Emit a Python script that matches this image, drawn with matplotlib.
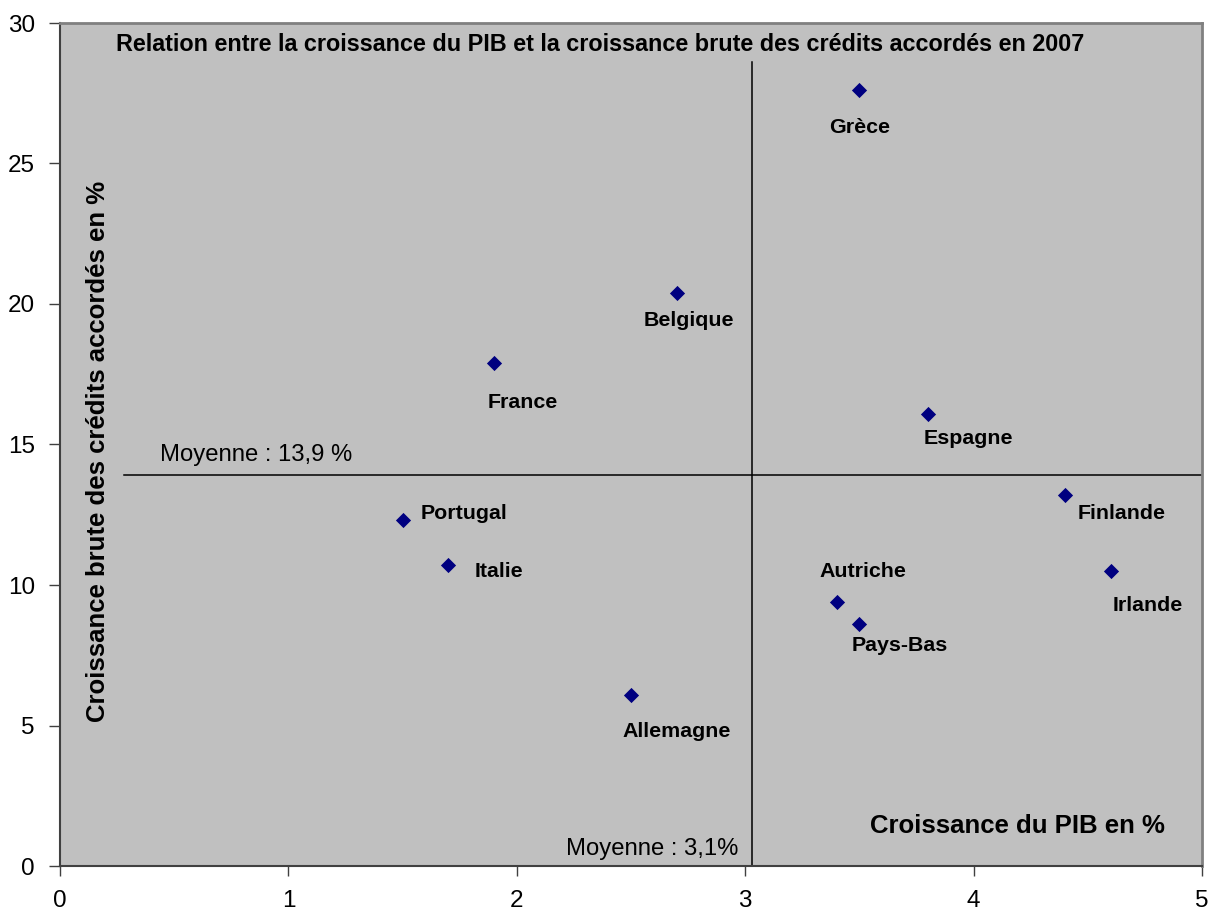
import matplotlib
matplotlib.use("Agg")
import matplotlib.pyplot as plt

countries = ["Grèce", "Belgique", "France", "Espagne", "Finlande", "Irlande",
             "Portugal", "Italie", "Autriche", "Pays-Bas", "Allemagne"]
pib = [3.5, 2.7, 1.9, 3.8, 4.4, 4.6, 1.5, 1.7, 3.4, 3.5, 2.5]
credits = [27.6, 20.4, 17.9, 16.1, 13.2, 10.5, 12.3, 10.7, 9.4, 8.6, 6.1]
mean_pib = 3.03
mean_credits = 13.9
xticks = [0, 1, 2, 3, 4, 5]
yticks = [0, 5, 10, 15, 20, 25, 30]

# label offsets in pixels (dx, dy up-positive, horizontal alignment)
label_offsets = {
    "Grèce": (0, -37, "center"), "Belgique": (12, -28, "center"),
    "France": (29, -39, "center"), "Espagne": (40, -25, "center"),
    "Finlande": (57, -18, "center"), "Irlande": (37, -35, "center"),
    "Portugal": (18, 7, "left"), "Italie": (26, -6, "left"),
    "Autriche": (26, 30, "center"), "Pays-Bas": (40, -21, "center"),
    "Allemagne": (46, -37, "center"),
}

plt.rcParams['font.family'] = ['Liberation Sans', 'DejaVu Sans']

fig = plt.figure(figsize=(12.08, 9.13), dpi=100)
ax = fig.add_axes([60/1208, 47/913, 1142/1208, 843/913])
ax.set_facecolor("#C0C0C0")
ax.set_xlim(0, 5)
ax.set_ylim(0, 30)
ax.set_xticks(xticks)
ax.set_yticks(yticks)
ax.tick_params(axis='both', direction='out', width=1, colors='#404040',
               labelsize=17.5, labelcolor='black')
ax.tick_params(axis='y', pad=10, length=8)
ax.tick_params(axis='x', pad=10, length=7)
for s in ["left", "bottom"]:
    ax.spines[s].set_color("#404040")
    ax.spines[s].set_linewidth(1.5)
for s in ["top", "right"]:
    ax.spines[s].set_color("#808080")
    ax.spines[s].set_linewidth(2)

ax.plot([0.28, 5], [mean_credits, mean_credits], color='black', lw=1.1, zorder=2)
ax.plot([mean_pib, mean_pib], [0, 28.6], color='black', lw=1.1, zorder=2)

ax.scatter(pib, credits, marker='D', s=60, color='#000080', zorder=3, linewidths=0)

for c, x, y in zip(countries, pib, credits):
    dx, dy, ha = label_offsets[c]
    ax.annotate(c, (x, y), xytext=(dx, dy), textcoords='offset pixels',
                ha=ha, va='center', fontsize=15.4, fontweight='bold')

ax.text(0.44, 13.9 + 0.35, "Moyenne : 13,9 %", fontsize=17.2, ha='left', va='bottom')
ax.text(2.97, 0.6, "Moyenne : 3,1%", fontsize=17.2, ha='right', va='center')

ax.text(0.473, 0.975, "Relation entre la croissance du PIB et la croissance brute des crédits accordés en 2007",
        transform=ax.transAxes, ha='center', va='center', fontsize=16.8, fontweight='bold')
ax.text(4.19, 1.42, "Croissance du PIB en %", ha='center', va='center',
        fontsize=18.5, fontweight='bold')
ax.text(0.165, 14.77, "Croissance brute des crédits accordés en %", rotation=90,
        ha='center', va='center', fontsize=18.5, fontweight='bold')

fig.savefig("out.png", dpi=100)
